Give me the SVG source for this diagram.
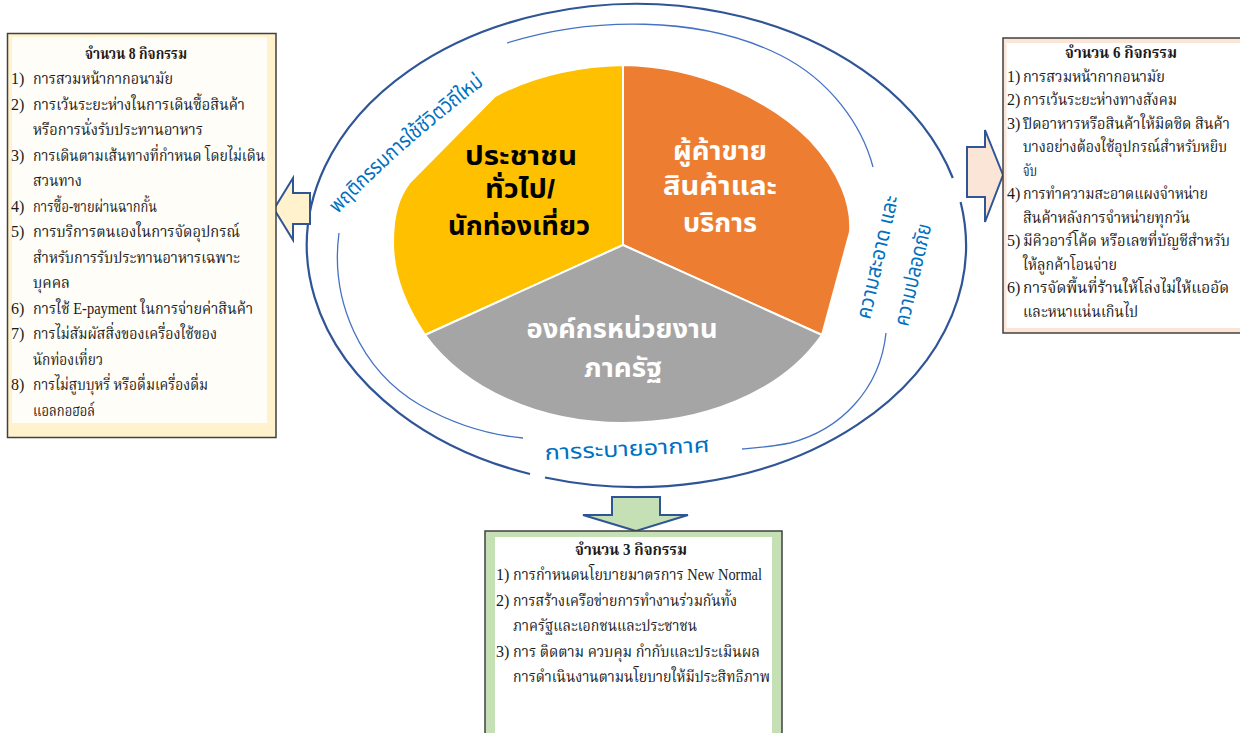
<svg xmlns="http://www.w3.org/2000/svg" width="1240" height="733" viewBox="0 0 1240 733">
<style>
.bt{font-family:'Liberation Serif','Noto Serif Thai','Angsana New',Norasi,Kinnari,serif;font-size:16px;fill:#1a1a1a}
.sm{font-size:15px}
.ttl{font-weight:bold;text-anchor:middle}
.pl{font-family:'Liberation Sans','Noto Sans Thai','Leelawadee UI',Tahoma,'Noto Sans',sans-serif;font-size:26px;font-weight:bold;text-anchor:middle}
.rl{font-family:'Liberation Sans','Noto Sans Thai','Leelawadee UI',Tahoma,'Noto Sans',sans-serif;font-size:21px;fill:#0070C0}
.arw{stroke:#2F5597;stroke-width:2;stroke-linejoin:miter}
.outer{fill:none;stroke:#2F5597;stroke-width:2.2}
.inner{fill:none;stroke:#4472C4;stroke-width:1.3}
.frame{stroke:#404040;stroke-width:1.5}
</style>
<defs>
<path id="p-top" d="M338,214 Q400,148 490,80"/>
</defs>
<rect width="1240" height="733" fill="#ffffff"/>

<g id="ring">
<path class="outer" d="M960.6,202 A329.5,241.5 0 0 1 545,477.5 M530,474 A329.5,241.5 0 1 1 952.8,178"/>
<path class="inner" d="M507,43 C590,17 700,15 780,55 C830,80 862,125 873,167"/>
<path class="inner" d="M886,333 C880,390 840,430 790,443 C770,447 755,448 742,449"/>
<path class="inner" d="M339,233 C330,300 360,370 420,405 C455,425 490,435 523,438"/>
<text class="rl"><textPath href="#p-top" textLength="196" lengthAdjust="spacingAndGlyphs">พฤติกรรมการใช้ชีวิตวิถีใหม่</textPath></text>
<text class="rl" transform="translate(870,320) rotate(-77)" textLength="126" lengthAdjust="spacingAndGlyphs">ความสะอาด และ</text>
<text class="rl" transform="translate(908,327) rotate(-77)" textLength="104" lengthAdjust="spacingAndGlyphs">ความปลอดภัย</text>
<text class="rl" transform="translate(545,460) rotate(-2.8)" textLength="165" lengthAdjust="spacingAndGlyphs">การระบายอากาศ</text>
</g>

<g id="node-people">
<path d="M623,245 L425,335 C405,305 393,275 393,243 C393,215 398,198 410,182 L495,96 C535,75 580,66 623,65 Z" fill="#FFC000" stroke="#ffffff" stroke-width="2"/>
<text class="pl" fill="#000000" x="521" y="165" textLength="112" lengthAdjust="spacingAndGlyphs">ประชาชน</text>
<text class="pl" fill="#000000" x="520" y="198" textLength="70" lengthAdjust="spacingAndGlyphs">ทั่วไป/</text>
<text class="pl" fill="#000000" x="519" y="235" textLength="142" lengthAdjust="spacingAndGlyphs">นักท่องเที่ยว</text>
</g>

<g id="node-vendors">
<path d="M623,245 L623,65 C700,66 770,100 810,140 C840,172 852,205 850,232 L822,335 Z" fill="#ED7D31" stroke="#ffffff" stroke-width="2"/>
<text class="pl" fill="#ffffff" x="720" y="160" textLength="94" lengthAdjust="spacingAndGlyphs">ผู้ค้าขาย</text>
<text class="pl" fill="#ffffff" x="720" y="195" textLength="114" lengthAdjust="spacingAndGlyphs">สินค้าและ</text>
<text class="pl" fill="#ffffff" x="720" y="232" textLength="74" lengthAdjust="spacingAndGlyphs">บริการ</text>
</g>

<g id="node-gov">
<path d="M623,245 L822,335 C780,395 700,423 623,423 C540,423 465,390 425,335 Z" fill="#A5A5A5" stroke="#ffffff" stroke-width="2"/>
<text class="pl" fill="#ffffff" x="622" y="338" textLength="191" lengthAdjust="spacingAndGlyphs">องค์กรหน่วยงาน</text>
<text class="pl" fill="#ffffff" x="623" y="377" textLength="78" lengthAdjust="spacingAndGlyphs">ภาครัฐ</text>
</g>

<g id="connectors">
<path class="arw" fill="#FFF2CC" d="M274,209 L293,178 L293,193 L310,193 L310,224 L293,224 L293,240 Z"/>
<path class="arw" fill="#FBE5D6" d="M1003,175 L985,130 L985,147 L967,147 L967,197 L985,197 L985,222 Z"/>
<path class="arw" fill="#C5E0B4" d="M636,531 L583,515 L612,515 L612,497 L660,497 L660,515 L688,515 Z"/>
</g>

<g id="node-left-box">
<rect class="frame" x="7.5" y="33.5" width="268.5" height="404" fill="#FFF2CC"/>
<rect x="12" y="37" width="255" height="386" fill="#FFFDF7"/>
<text class="bt ttl" x="136" y="58.5" textLength="102" lengthAdjust="spacingAndGlyphs">จำนวน 8 กิจกรรม</text>
<text class="bt" x="11" y="84">1)</text><text class="bt" x="33" y="84" textLength="140" lengthAdjust="spacingAndGlyphs">การสวมหน้ากากอนามัย</text>
<text class="bt" x="11" y="109.5">2)</text><text class="bt" x="33" y="109.5" textLength="212" lengthAdjust="spacingAndGlyphs">การเว้นระยะห่างในการเดินซื้อสินค้า</text>
<text class="bt" x="33" y="135" textLength="170" lengthAdjust="spacingAndGlyphs">หรือการนั่งรับประทานอาหาร</text>
<text class="bt" x="11" y="160.5">3)</text><text class="bt" x="33" y="160.5" textLength="232" lengthAdjust="spacingAndGlyphs">การเดินตามเส้นทางที่กำหนด โดยไม่เดิน</text>
<text class="bt" x="33" y="186" textLength="49" lengthAdjust="spacingAndGlyphs">สวนทาง</text>
<text class="bt" x="11" y="211.5">4)</text><text class="bt" x="33" y="211.5" textLength="124" lengthAdjust="spacingAndGlyphs">การซื้อ-ขายผ่านฉากกั้น</text>
<text class="bt" x="11" y="237">5)</text><text class="bt" x="33" y="237" textLength="207" lengthAdjust="spacingAndGlyphs">การบริการตนเองในการจัดอุปกรณ์</text>
<text class="bt" x="33" y="262.5" textLength="207" lengthAdjust="spacingAndGlyphs">สำหรับการรับประทานอาหารเฉพาะ</text>
<text class="bt" x="33" y="288" textLength="37" lengthAdjust="spacingAndGlyphs">บุคคล</text>
<text class="bt" x="11" y="313.5">6)</text><text class="bt" x="33" y="313.5" textLength="220" lengthAdjust="spacingAndGlyphs">การใช้ E-payment ในการจ่ายค่าสินค้า</text>
<text class="bt" x="11" y="339">7)</text><text class="bt" x="33" y="339" textLength="184" lengthAdjust="spacingAndGlyphs">การไม่สัมผัสสิ่งของเครื่องใช้ของ</text>
<text class="bt" x="33" y="364.5" textLength="70" lengthAdjust="spacingAndGlyphs">นักท่องเที่ยว</text>
<text class="bt" x="11" y="390">8)</text><text class="bt" x="33" y="390" textLength="175" lengthAdjust="spacingAndGlyphs">การไม่สูบบุหรี่ หรือดื่มเครื่องดื่ม</text>
<text class="bt" x="33" y="415.5" textLength="62" lengthAdjust="spacingAndGlyphs">แอลกอฮอล์</text>
</g>

<g id="node-right-box">
<rect class="frame" x="1003" y="38" width="260" height="295" fill="#FBE5D6"/>
<rect x="1006.5" y="43" width="250" height="285" fill="#FFFFFF"/>
<text class="bt ttl" x="1121" y="58" textLength="112" lengthAdjust="spacingAndGlyphs">จำนวน 6 กิจกรรม</text>
<text class="bt" x="1007" y="81.5">1)</text><text class="bt" x="1023" y="81.5" textLength="142" lengthAdjust="spacingAndGlyphs">การสวมหน้ากากอนามัย</text>
<text class="bt" x="1007" y="105">2)</text><text class="bt" x="1023" y="105" textLength="154" lengthAdjust="spacingAndGlyphs">การเว้นระยะห่างทางสังคม</text>
<text class="bt" x="1007" y="128.5">3)</text><text class="bt sm" x="1023" y="128.5" textLength="207" lengthAdjust="spacingAndGlyphs">ปิดอาหารหรือสินค้าให้มิดชิด สินค้า</text>
<text class="bt sm" x="1023" y="152" textLength="204" lengthAdjust="spacingAndGlyphs">บางอย่างต้องใช้อุปกรณ์สำหรับหยิบ</text>
<text class="bt" x="1023" y="175.5" textLength="14" lengthAdjust="spacingAndGlyphs">จับ</text>
<text class="bt" x="1007" y="199">4)</text><text class="bt" x="1023" y="199" textLength="185" lengthAdjust="spacingAndGlyphs">การทำความสะอาดแผงจำหน่าย</text>
<text class="bt" x="1023" y="222.5" textLength="167" lengthAdjust="spacingAndGlyphs">สินค้าหลังการจำหน่ายทุกวัน</text>
<text class="bt" x="1007" y="246">5)</text><text class="bt sm" x="1023" y="246" textLength="207" lengthAdjust="spacingAndGlyphs">มีคิวอาร์โค้ด หรือเลขที่บัญชีสำหรับ</text>
<text class="bt" x="1023" y="269.5" textLength="94" lengthAdjust="spacingAndGlyphs">ให้ลูกค้าโอนจ่าย</text>
<text class="bt" x="1007" y="293">6)</text><text class="bt" x="1023" y="293" textLength="206" lengthAdjust="spacingAndGlyphs">การจัดพื้นที่ร้านให้โล่งไม่ให้แออัด</text>
<text class="bt" x="1023" y="316.5" textLength="115" lengthAdjust="spacingAndGlyphs">และหนาแน่นเกินไป</text>
</g>

<g id="node-bottom-box">
<rect class="frame" x="485" y="531" width="297" height="220" fill="#C5E0B4"/>
<rect x="495" y="537" width="277" height="210" fill="#FFFFFF"/>
<text class="bt ttl" x="631" y="555" textLength="112" lengthAdjust="spacingAndGlyphs">จำนวน 3 กิจกรรม</text>
<text class="bt" x="496" y="580.4">1)</text><text class="bt" x="513" y="580.4" textLength="249" lengthAdjust="spacingAndGlyphs">การกำหนดนโยบายมาตรการ New Normal</text>
<text class="bt" x="496" y="605.8">2)</text><text class="bt" x="513" y="605.8" textLength="224" lengthAdjust="spacingAndGlyphs">การสร้างเครือข่ายการทำงานร่วมกันทั้ง</text>
<text class="bt" x="513" y="631.2" textLength="184" lengthAdjust="spacingAndGlyphs">ภาครัฐและเอกชนและประชาชน</text>
<text class="bt" x="496" y="656.6">3)</text><text class="bt" x="513" y="656.6" textLength="247" lengthAdjust="spacingAndGlyphs">การ ติดตาม ควบคุม กำกับและประเมินผล</text>
<text class="bt" x="513" y="682" textLength="257" lengthAdjust="spacingAndGlyphs">การดำเนินงานตามนโยบายให้มีประสิทธิภาพ</text>
</g>
</svg>
